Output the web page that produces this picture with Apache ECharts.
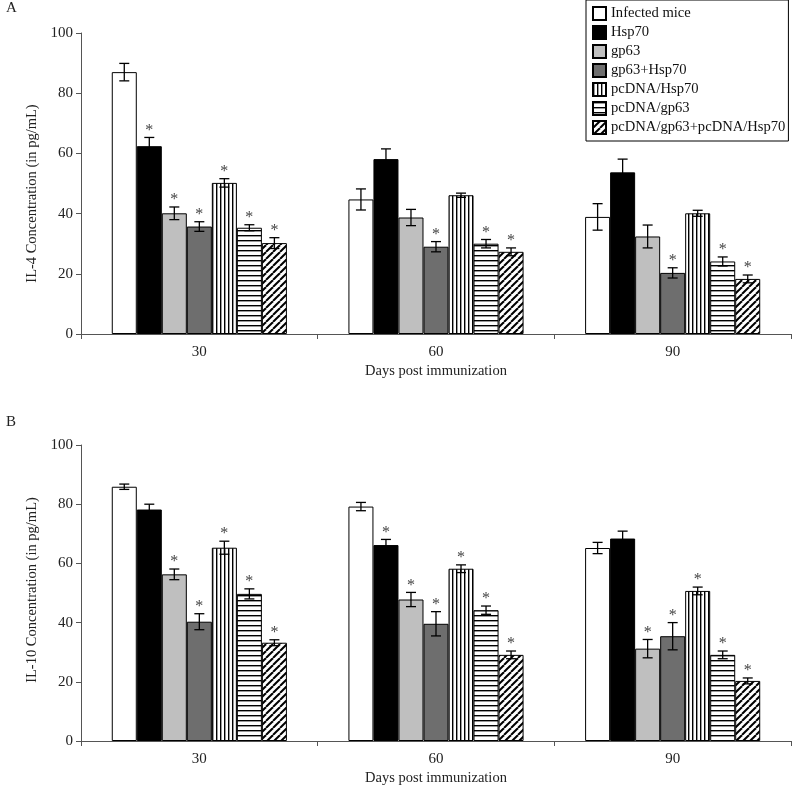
<!DOCTYPE html>
<html>
<head>
<meta charset="utf-8">
<script src="https://cdn.jsdelivr.net/npm/echarts@6/dist/echarts.min.js"></script>
<style>html,body{margin:0;padding:0;background:#fff}#c{width:792px;height:787px}</style>
</head>
<body>
<div id="c"></div>
<script>
const categories = ['30', '60', '90'];
const seriesNames = ['Infected mice', 'Hsp70', 'gp63', 'gp63+Hsp70', 'pcDNA/Hsp70', 'pcDNA/gp63', 'pcDNA/gp63+pcDNA/Hsp70'];
const yTicks = [0, 20, 40, 60, 80, 100];

// Panel A: IL-4 (rows = series, columns = days 30/60/90)
const il4Means = [
  [87.0, 44.7, 38.9],
  [62.4, 58.1, 53.7],
  [40.1, 38.7, 32.4],
  [35.7, 29.0, 20.3],
  [50.2, 46.1, 40.1],
  [35.3, 30.0, 24.1],
  [30.2, 27.3, 18.3]
];
const il4Errors = [
  [2.9, 3.5, 4.4],
  [2.9, 3.4, 4.4],
  [2.1, 2.7, 3.8],
  [1.6, 1.7, 1.7],
  [1.4, 0.7, 1.0],
  [1.0, 1.4, 1.5],
  [1.8, 1.3, 1.3]
];
const il4Sig = [
  [0, 0, 0],
  [1, 0, 0],
  [1, 0, 0],
  [1, 1, 1],
  [1, 0, 0],
  [1, 1, 1],
  [1, 1, 1]
];

// Panel B: IL-10
const il10Means = [
  [85.9, 79.2, 65.2],
  [78.2, 66.2, 68.4],
  [56.3, 47.8, 31.2],
  [40.3, 39.6, 35.4],
  [65.3, 58.2, 50.7],
  [49.7, 44.2, 29.1],
  [33.2, 29.1, 20.3]
];
const il10Errors = [
  [0.9, 1.4, 1.9],
  [1.8, 1.9, 2.5],
  [1.8, 2.4, 3.1],
  [2.7, 4.1, 4.6],
  [2.2, 1.3, 1.3],
  [1.7, 1.4, 1.3],
  [1.0, 1.3, 1.0]
];
const il10Sig = [
  [0, 0, 0],
  [0, 1, 0],
  [1, 1, 1],
  [1, 1, 1],
  [1, 1, 1],
  [1, 1, 1],
  [1, 1, 1]
];

const FONT = '"Liberation Serif", "DejaVu Serif", serif';
const FS = 15;
const NS = 14.5;
const GAP = 0.26;

function makePattern(w, h, draw) {
  const cv = document.createElement('canvas');
  cv.width = w; cv.height = h;
  const ctx = cv.getContext('2d');
  ctx.fillStyle = '#fff';
  ctx.fillRect(0, 0, w, h);
  ctx.fillStyle = '#000';
  ctx.strokeStyle = '#000';
  draw(ctx, w, h);
  return { image: cv, repeat: 'repeat' };
}
const vStripes = makePattern(4, 4, (ctx) => { ctx.fillRect(0, 0, 1.4, 4); });
const hStripes = makePattern(5, 5, (ctx) => { ctx.fillRect(0, 0, 5, 1.4); });
const dStripes = makePattern(7, 7, (ctx, w, h) => {
  ctx.lineWidth = 2;
  for (let k = -1; k <= 1; k++) {
    ctx.beginPath();
    ctx.moveTo(k * w, h);
    ctx.lineTo(k * w + w, 0);
    ctx.stroke();
  }
});
const fills = ['#ffffff', '#000000', '#bfbfbf', '#6e6e6e', vStripes, hStripes, dStripes];

function barSeries(means, axisIdx) {
  return seriesNames.map((name, i) => ({
    name: name,
    type: 'bar',
    xAxisIndex: axisIdx,
    yAxisIndex: axisIdx,
    barGap: '0%',
    barCategoryGap: (GAP * 100) + '%',
    itemStyle: { color: fills[i], borderColor: '#000', borderWidth: 1 },
    emphasis: { disabled: true },
    data: means[i]
  }));
}

function errSeries(means, errs, sig, axisIdx) {
  const data = [];
  for (let i = 0; i < means.length; i++) {
    for (let c = 0; c < categories.length; c++) {
      data.push([c, i, means[i][c], errs[i][c], sig[i][c]]);
    }
  }
  return {
    type: 'custom',
    xAxisIndex: axisIdx,
    yAxisIndex: axisIdx,
    z: 10,
    silent: true,
    encode: { x: 0, y: 2 },
    data: data,
    renderItem: function (params, api) {
      const ci = api.value(0), si = api.value(1), m = api.value(2), e = api.value(3), s = api.value(4);
      const catW = api.size([1, 0])[0];
      const barW = catW * (1 - GAP) / seriesNames.length;
      const c0 = api.coord([ci, m]);
      const x = c0[0] - catW * (1 - GAP) / 2 + (si + 0.5) * barW;
      const yTop = api.coord([ci, m + e])[1];
      const yBot = api.coord([ci, m - e])[1];
      const cap = 5;
      const style = { stroke: '#000', lineWidth: 1.3 };
      const children = [
        { type: 'line', shape: { x1: x, y1: yTop, x2: x, y2: yBot }, style: style },
        { type: 'line', shape: { x1: x - cap, y1: yTop, x2: x + cap, y2: yTop }, style: style },
        { type: 'line', shape: { x1: x - cap, y1: yBot, x2: x + cap, y2: yBot }, style: style }
      ];
      if (s) {
        children.push({
          type: 'text',
          style: {
            text: '*', x: x, y: yTop - 7, align: 'center', verticalAlign: 'middle',
            font: '16px ' + FONT, fill: '#444'
          }
        });
      }
      return { type: 'group', children: children };
    }
  };
}

function xAxisCfg(gridIdx) {
  return {
    type: 'category', gridIndex: gridIdx, data: categories,
    name: 'Days post immunization', nameLocation: 'middle', nameGap: 30,
    nameTextStyle: { fontFamily: FONT, fontSize: NS, color: '#222' },
    axisLine: { lineStyle: { color: '#555', width: 1 } },
    axisTick: { show: true, length: 5, lineStyle: { color: '#555' } },
    axisLabel: { fontFamily: FONT, fontSize: FS, color: '#222', margin: 11 }
  };
}
function yAxisCfg(gridIdx, name, namePad) {
  return {
    type: 'value', gridIndex: gridIdx, min: yTicks[0], max: yTicks[yTicks.length - 1], interval: yTicks[1] - yTicks[0],
    name: name, nameLocation: 'middle', nameGap: 34, nameRotate: 90,
    nameTextStyle: { fontFamily: FONT, fontSize: NS, color: '#222', padding: namePad },
    axisLine: { show: true, lineStyle: { color: '#555', width: 1 } },
    axisTick: { show: true, length: 5, lineStyle: { color: '#555' } },
    axisLabel: { fontFamily: FONT, fontSize: FS, color: '#222', margin: 8 },
    splitLine: { show: false }
  };
}

const chart = echarts.init(document.getElementById('c'), null, { renderer: 'canvas' });
chart.setOption({
  animation: false,
  backgroundColor: '#fff',
  grid: [
    { left: 81, top: 33, width: 710, height: 301 },
    { left: 81, top: 445, width: 710, height: 297 }
  ],
  legend: {
    data: seriesNames,
    orient: 'vertical',
    left: 586, top: 0,
    backgroundColor: '#fff',
    borderColor: '#000', borderWidth: 1,
    padding: [6, 3, 6, 6],
    itemWidth: 13, itemHeight: 13, itemGap: 4,
    icon: 'rect',
    selectedMode: false,
    textStyle: { fontFamily: FONT, fontSize: 14.6, color: '#111', padding: [0, 0, 0, 0] },
    z: 20
  },
  xAxis: [xAxisCfg(0), xAxisCfg(1)],
  yAxis: [
    yAxisCfg(0, 'IL-4 Concentration (in pg/mL)', [0, 20, 0, 0]),
    yAxisCfg(1, 'IL-10 Concentration (in pg/mL)', [0, 0, 0, 6])
  ],
  graphic: [
    { type: 'text', left: 6, top: 1, style: { text: 'A', font: FS + 'px ' + FONT, fill: '#222' } },
    { type: 'text', left: 6, top: 415, style: { text: 'B', font: FS + 'px ' + FONT, fill: '#222' } }
  ],
  series: [].concat(
    barSeries(il4Means, 0),
    barSeries(il10Means, 1),
    [errSeries(il4Means, il4Errors, il4Sig, 0), errSeries(il10Means, il10Errors, il10Sig, 1)]
  )
});
</script>
</body>
</html>
